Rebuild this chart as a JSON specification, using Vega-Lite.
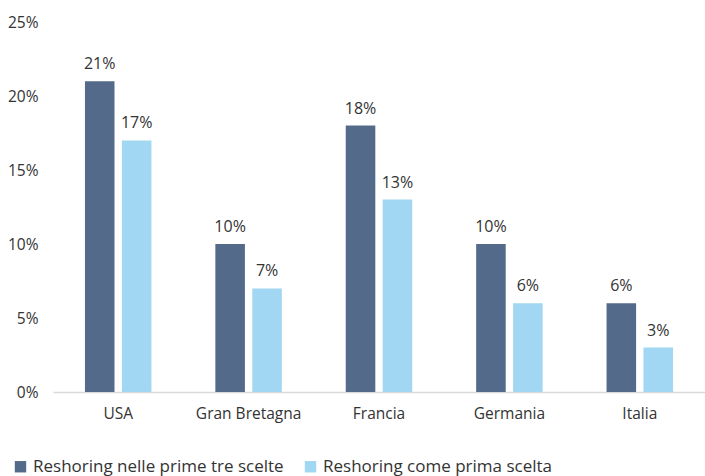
{
  "$schema": "https://vega.github.io/schema/vega-lite/v6.json",
  "autosize": {"type": "none"},
  "width": 652,
  "height": 370,
  "padding": {"left": 53, "top": 22, "right": 0, "bottom": 84},
  "background": "white",
  "config": {
    "font": "Open Sans",
    "view": {"stroke": null}
  },
  "data": {
    "values": [
      {"paese": "USA", "serie": "Reshoring nelle prime tre scelte", "valore": 21},
      {"paese": "USA", "serie": "Reshoring come prima scelta", "valore": 17},
      {"paese": "Gran Bretagna", "serie": "Reshoring nelle prime tre scelte", "valore": 10},
      {"paese": "Gran Bretagna", "serie": "Reshoring come prima scelta", "valore": 7},
      {"paese": "Francia", "serie": "Reshoring nelle prime tre scelte", "valore": 18},
      {"paese": "Francia", "serie": "Reshoring come prima scelta", "valore": 13},
      {"paese": "Germania", "serie": "Reshoring nelle prime tre scelte", "valore": 10},
      {"paese": "Germania", "serie": "Reshoring come prima scelta", "valore": 6},
      {"paese": "Italia", "serie": "Reshoring nelle prime tre scelte", "valore": 6},
      {"paese": "Italia", "serie": "Reshoring come prima scelta", "valore": 3}
    ]
  },
  "encoding": {
    "x": {
      "field": "paese", "type": "nominal", "sort": null,
      "scale": {"paddingInner": 0.49, "paddingOuter": 0.245},
      "axis": {"title": null, "labelAngle": 0, "ticks": false, "domainColor": "#d9d9d9", "domainWidth": 1.5, "labelFontSize": 15.5, "labelColor": "#333333", "labelPadding": 14}
    },
    "xOffset": {
      "field": "serie", "type": "nominal",
      "sort": ["Reshoring nelle prime tre scelte", "Reshoring come prima scelta"],
      "scale": {"paddingInner": 0.2, "paddingOuter": 0}
    },
    "y": {
      "field": "valore", "type": "quantitative",
      "scale": {"domain": [0, 25]},
      "axis": {"title": null, "values": [0, 5, 10, 15, 20, 25], "labelExpr": "datum.value + '%'", "grid": false, "domain": false, "ticks": false, "labelFontSize": 15.5, "labelColor": "#333333", "labelPadding": 15}
    }
  },
  "layer": [
    {
      "mark": {"type": "bar"},
      "encoding": {
        "color": {
          "field": "serie", "type": "nominal",
          "sort": ["Reshoring nelle prime tre scelte", "Reshoring come prima scelta"],
          "scale": {"range": ["#546a8b", "#a1d7f2"]},
          "legend": {
            "title": null, "orient": "none", "direction": "horizontal",
            "legendX": -41, "legendY": 436,
            "symbolType": "square", "symbolSize": 130, "symbolStrokeWidth": 0,
            "labelFontSize": 17, "labelLimit": 0, "labelColor": "#333333", "columnPadding": 18, "labelOffset": 4
          }
        }
      }
    },
    {
      "mark": {"type": "text", "baseline": "bottom", "dy": -9, "fontSize": 16, "color": "#333333"},
      "encoding": {
        "text": {"field": "valore_pct", "type": "nominal"},
        "detail": {"field": "serie"}
      },
      "transform": [{"calculate": "datum.valore + '%'", "as": "valore_pct"}]
    }
  ]
}
